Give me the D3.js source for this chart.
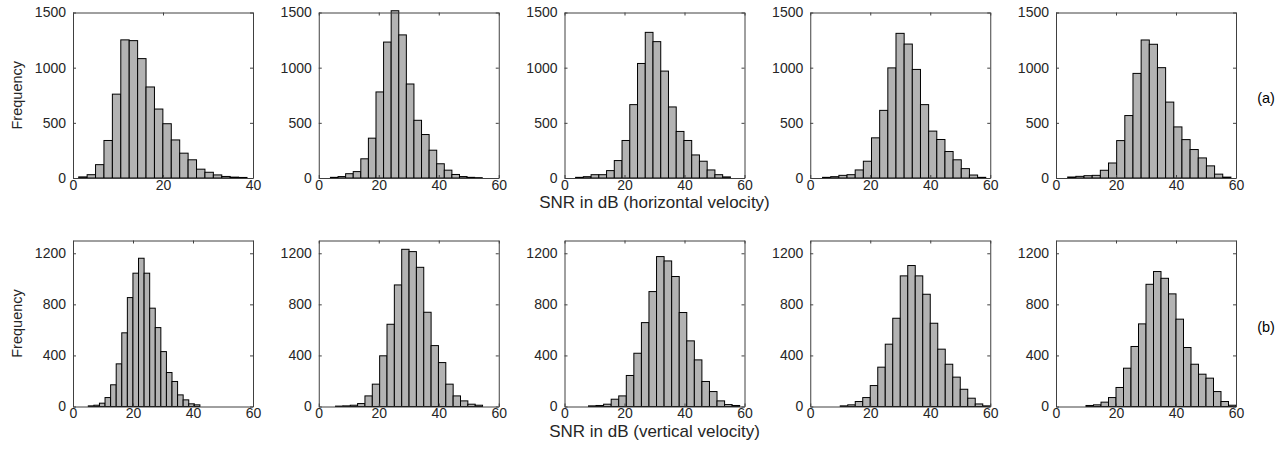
<!DOCTYPE html>
<html>
<head>
<meta charset="utf-8">
<script src="https://cdn.jsdelivr.net/npm/d3@7"></script>
<style>
  body { margin: 0; background: #fff; }
  svg { font-family: "Liberation Sans", Arial, Helvetica, sans-serif; }
  .axis text { fill: #262626; font-size: 14px; }
  .axis path, .axis line { stroke: #404040; }
</style>
</head>
<body>
<div id="chart"></div>
<script>
// SNR histograms (dB) – top row: horizontal velocity, bottom row: vertical velocity
var xMaxTop = [40, 60, 60, 60, 60];
var xMaxBottom = [60, 60, 60, 60, 60];
var yTicksTop = [0, 500, 1000, 1500];
var yTicksBottom = [0, 400, 800, 1200];
var yMaxTop = 1500;
var yMaxBottom = 1300;

// first bin edge and bin width per panel (dB)
var binStartTop = [1.27, 3.9, 3.7, 4.1, 3.9];
var binWidthTop = [1.87, 2.53, 2.58, 2.72, 2.72];
var binStartBottom = [5.1, 5.6, 8.0, 10.0, 10.0];
var binWidthBottom = [1.86, 2.45, 2.52, 2.5, 2.5];

var countsTop = [
  [10, 30, 121, 340, 760, 1252, 1245, 1082, 825, 625, 492, 345, 225, 165, 80, 52, 28, 14, 8, 5],
  [6, 13, 39, 58, 174, 361, 780, 1232, 1516, 1297, 852, 523, 394, 252, 129, 71, 32, 13, 6, 3],
  [6, 12, 30, 30, 67, 158, 340, 665, 1038, 1320, 1236, 969, 644, 422, 340, 209, 152, 73, 30, 10],
  [6, 12, 24, 30, 73, 152, 364, 613, 998, 1311, 1214, 984, 665, 425, 349, 240, 165, 85, 27, 6],
  [9, 15, 21, 24, 70, 136, 339, 566, 948, 1251, 1212, 1000, 688, 463, 348, 258, 182, 110, 35, 8]
];
var countsBottom = [
  [5, 10, 26, 70, 170, 334, 577, 853, 1044, 1161, 1044, 770, 618, 430, 266, 196, 91, 52, 21, 13],
  [3, 5, 10, 23, 83, 175, 397, 644, 952, 1231, 1213, 1090, 738, 477, 344, 175, 83, 44, 18, 10],
  [5, 8, 18, 57, 83, 243, 417, 657, 900, 1174, 1140, 1018, 736, 514, 365, 196, 117, 44, 15, 8],
  [5, 13, 39, 70, 164, 308, 488, 691, 1023, 1104, 1023, 879, 652, 449, 331, 230, 135, 65, 20, 5],
  [8, 13, 34, 70, 149, 300, 470, 647, 957, 1057, 1004, 882, 684, 462, 331, 253, 222, 117, 39, 10]
];

var xLabelTop = "SNR in dB (horizontal velocity)";
var xLabelBottom = "SNR in dB (vertical velocity)";
var rowTags = ["(a)", "(b)"];

var width = 1283, height = 455;
var panelW = 180;
var left0 = 73, pitch = 245.75;
var rows = [
  {top: 12.5, h: 165.5, xMax: xMaxTop, yMax: yMaxTop, yTicks: yTicksTop,
   start: binStartTop, bw: binWidthTop, counts: countsTop, label: xLabelTop, tag: rowTags[0]},
  {top: 240.5, h: 166, xMax: xMaxBottom, yMax: yMaxBottom, yTicks: yTicksBottom,
   start: binStartBottom, bw: binWidthBottom, counts: countsBottom, label: xLabelBottom, tag: rowTags[1]}
];

var svg = d3.select("#chart").append("svg")
    .attr("width", width)
    .attr("height", height);

function drawPanel(g, counts, start, bw, xMax, yMax, yTicks, w, h) {
  var x = d3.scaleLinear().domain([0, xMax]).range([0, w]);
  var y = d3.scaleLinear().domain([0, yMax]).range([h, 0]);
  var xTicks = d3.range(0, xMax + 1, 20);

  var bins = counts.map(function(c, i) {
    return {x0: start + i * bw, x1: start + (i + 1) * bw, n: c};
  });

  g.selectAll(".bar")
    .data(bins)
    .enter().append("rect")
    .attr("class", "bar")
    .attr("x", function(d) { return x(d.x0); })
    .attr("width", function(d) { return x(d.x1) - x(d.x0); })
    .attr("y", function(d) { return y(d.n); })
    .attr("height", function(d) { return h - y(d.n); })
    .style("fill", "#b3b3b3")
    .style("stroke", "#000")
    .style("stroke-width", 1);

  // box with inward ticks on all sides (matlab style)
  g.append("g").attr("class", "axis")
    .attr("transform", "translate(0," + h + ")")
    .call(d3.axisBottom(x).tickValues(xTicks).tickSizeInner(-3).tickSizeOuter(0)
      .tickPadding(2).tickFormat(d3.format("d")));
  g.append("g").attr("class", "axis")
    .call(d3.axisTop(x).tickValues(xTicks).tickSizeInner(-3).tickSizeOuter(0).tickFormat(""));
  g.append("g").attr("class", "axis")
    .call(d3.axisLeft(y).tickValues(yTicks).tickSizeInner(-3).tickSizeOuter(0)
      .tickPadding(7).tickFormat(d3.format("d")));
  g.append("g").attr("class", "axis")
    .attr("transform", "translate(" + w + ",0)")
    .call(d3.axisRight(y).tickValues(yTicks).tickSizeInner(-3).tickSizeOuter(0).tickFormat(""));
}

rows.forEach(function(r) {
  for (var i = 0; i < 5; i++) {
    var px = left0 + i * pitch;
    var g = svg.append("g").attr("transform", "translate(" + px + "," + r.top + ")");
    drawPanel(g, r.counts[i], r.start[i], r.bw[i], r.xMax[i], r.yMax, r.yTicks, panelW, r.h);
  }

  svg.append("text")
    .attr("transform", "translate(22," + (r.top + r.h / 2) + ") rotate(-90)")
    .attr("text-anchor", "middle")
    .style("font-size", "14.5px")
    .style("fill", "#262626")
    .text("Frequency");

  svg.append("text")
    .attr("x", left0 + 2 * pitch + panelW / 2)
    .attr("y", r.top + r.h + 30)
    .attr("text-anchor", "middle")
    .style("font-size", "17px")
    .style("fill", "#262626")
    .text(r.label);

  svg.append("text")
    .attr("x", 1266)
    .attr("y", r.top + r.h / 2 + 8)
    .attr("text-anchor", "middle")
    .style("font-size", "14.5px")
    .style("fill", "#000")
    .text(r.tag);
});
</script>
</body>
</html>
